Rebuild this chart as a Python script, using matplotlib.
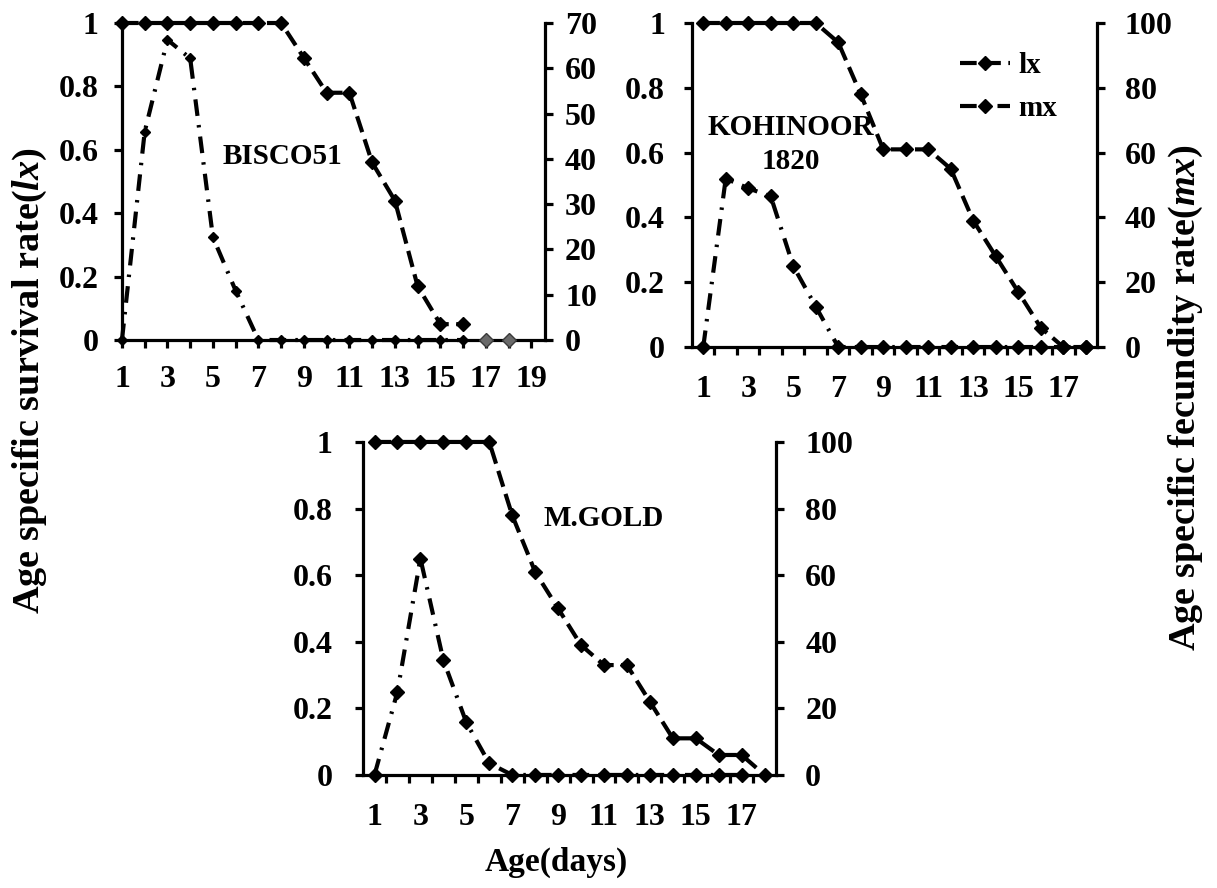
import matplotlib
matplotlib.use("Agg")
import matplotlib.pyplot as plt
from matplotlib.lines import Line2D
import numpy as np

plt.rcParams["font.family"] = ["Liberation Serif", "DejaVu Serif"]
plt.rcParams["font.weight"] = "bold"
plt.rcParams["mathtext.fontset"] = "custom"
plt.rcParams["mathtext.rm"] = "Liberation Serif:bold"
plt.rcParams["mathtext.it"] = "Liberation Serif:italic:bold"

# ---- life-table data (age in days) ----
days_bisco = list(range(1, 19))
lx_bisco = [1, 1, 1, 1, 1, 1, 1, 1, 0.89, 0.78, 0.78, 0.56, 0.44, 0.17, 0.05, 0.05, 0, 0]
mx_days_bisco = list(range(1, 17))
mx_bisco = [0, 46, 66.3, 62.2, 22.7, 10.9, 0, 0, 0, 0, 0, 0, 0, 0, 0, 0]

days_koh = list(range(1, 19))
lx_koh = [1, 1, 1, 1, 1, 1, 0.94, 0.78, 0.61, 0.61, 0.61, 0.55, 0.39, 0.28, 0.17, 0.06, 0, 0]
mx_koh = [0, 52, 49, 46.5, 25, 12.5, 0, 0, 0, 0, 0, 0, 0, 0, 0, 0, 0, 0]

days_gold = list(range(1, 19))
lx_gold = [1, 1, 1, 1, 1, 1, 0.78, 0.61, 0.5, 0.39, 0.33, 0.33, 0.22, 0.11, 0.11, 0.06, 0.06, 0]
mx_days_gold = list(range(1, 18))
mx_gold = [0, 25, 65, 34.5, 15.8, 3.5, 0, 0, 0, 0, 0, 0, 0, 0, 0, 0, 0]

left_ticks = [0, 0.2, 0.4, 0.6, 0.8, 1]
left_labels = ["0", "0.2", "0.4", "0.6", "0.8", "1"]

TICK_FS = 23
NOTE_FS = 21
LW = 3.0
SPINE_LW = 2.3
TICK_LEN = 6
LX_DASH = (4, 1.8)
MX_DASH = (4, 2.2, 0.6, 2.2)

fig = plt.figure(figsize=(12.17, 8.88), dpi=100)


def style_axes(ax, ax_r, right_max, right_step, left_pad, right_pad):
    for a in (ax, ax_r):
        a.spines["top"].set_visible(False)
        for s in ("left", "right", "bottom"):
            a.spines[s].set_linewidth(SPINE_LW)
    ax.spines["right"].set_visible(False)
    ax_r.spines["left"].set_visible(False)
    ax_r.spines["bottom"].set_visible(False)
    ax.set_ylim(0, 1)
    ax.set_yticks(left_ticks)
    ax.set_yticklabels(left_labels)
    ax.tick_params(axis="y", direction="out", length=TICK_LEN, width=2.3,
                   labelsize=TICK_FS, pad=left_pad)
    ax_r.set_ylim(0, right_max)
    ax_r.set_yticks(np.arange(0, right_max + 1, right_step))
    ax_r.tick_params(axis="y", direction="out", length=TICK_LEN, width=2.3,
                     labelsize=TICK_FS, pad=right_pad)
    for t in ax.get_yticklabels() + ax_r.get_yticklabels():
        t.set_fontweight("bold")


def draw_lx(ax, x, y, ms=7.5, **kw):
    line, = ax.plot(x, y, color="black", lw=LW, marker="D", ms=ms,
                    clip_on=False, zorder=4, **kw)
    line.set_dashes(LX_DASH)
    return line


def draw_mx(ax, x, y, ms=7.5, **kw):
    line, = ax.plot(x, y, color="black", lw=LW, marker="D", ms=ms,
                    clip_on=False, zorder=4, **kw)
    line.set_dashes(MX_DASH)
    return line


# ---------------- BISCO51 ----------------
ax1 = fig.add_axes([0.1002, 0.6171, 0.3476, 0.357])
ax1r = ax1.twinx()
style_axes(ax1, ax1r, 70, 10, 11, 8.5)
ax1.set_xlim(1, 19.6)
ax1.set_xticks(range(1, 20))
ax1.set_xticklabels([str(d) if d % 2 == 1 else "" for d in range(1, 20)])
ax1.tick_params(axis="x", direction="out", length=TICK_LEN, width=2.3,
                labelsize=TICK_FS, pad=12)
ax1r.set_xlim(1, 19.6)
draw_lx(ax1, days_bisco[:16], lx_bisco[:16])
ax1.plot(days_bisco[16:], lx_bisco[16:], ls="none", marker="D", ms=7.5,
         color="#6a6a6a", mec="#3a3a3a", clip_on=False, zorder=4)
draw_mx(ax1r, mx_days_bisco, mx_bisco, ms=5)
ax1.text(8.05, 0.58, "BISCO51", fontsize=NOTE_FS, fontweight="bold",
         ha="center", va="center")

# ---------------- KOHINOOR 1820 ----------------
ax2 = fig.add_axes([0.5686, 0.6092, 0.3328, 0.3649])
ax2r = ax2.twinx()
style_axes(ax2, ax2r, 100, 20, 13.5, 14)
for a in (ax2, ax2r):
    a.set_xlim(0.5, 18.5)
ax2.set_xticks(range(1, 18, 2))
ax2.set_xticks(np.arange(1.5, 18.0, 1.0), minor=True)
ax2.tick_params(axis="x", which="major", length=0, labelsize=TICK_FS, pad=20)
ax2.tick_params(axis="x", which="minor", direction="out", length=TICK_LEN, width=2.3)
draw_lx(ax2, days_koh, lx_koh)
draw_mx(ax2r, days_koh, mx_koh)
ax2.text(4.9, 0.625, "KOHINOOR\n1820", fontsize=NOTE_FS, fontweight="bold",
         ha="center", va="center", linespacing=1.3)

# ---------------- M.GOLD ----------------
ax3 = fig.add_axes([0.2983, 0.1273, 0.3394, 0.375])
ax3r = ax3.twinx()
style_axes(ax3, ax3r, 100, 20, 16, 15)
for a in (ax3, ax3r):
    a.set_xlim(0.5, 18.5)
ax3.set_xticks(range(1, 18, 2))
ax3.set_xticks(np.arange(1.5, 18.0, 1.0), minor=True)
ax3.tick_params(axis="x", which="major", length=0, labelsize=TICK_FS, pad=20)
ax3.tick_params(axis="x", which="minor", direction="out", length=TICK_LEN, width=2.3)
draw_lx(ax3, days_gold, lx_gold)
draw_mx(ax3r, mx_days_gold, mx_gold)
ax3.text(11.0, 0.77, "M.GOLD", fontsize=NOTE_FS, fontweight="bold",
         ha="center", va="center")

for a in (ax1, ax2, ax3):
    for t in a.get_xticklabels():
        t.set_fontweight("bold")

# ---------------- legend ----------------
h_lx = Line2D([], [], color="black", lw=LW, marker="D", ms=7.5, dashes=LX_DASH)
h_mx = Line2D([], [], color="black", lw=LW, marker="D", ms=7.5, dashes=MX_DASH)
fig.legend([h_lx, h_mx], ["lx", "mx"], loc="upper left",
           bbox_to_anchor=(934 / 1217, 1 - 26 / 888), frameon=False,
           prop={"family": "Liberation Serif", "weight": "bold", "size": NOTE_FS},
           handlelength=1.7, handletextpad=0.3, labelspacing=0.55)

# ---------------- axis titles ----------------
fig.text(30 / 1217, 1 - 381 / 888, r"Age specific survival rate($lx$)",
         rotation=90, ha="center", va="center", fontsize=27.5, fontweight="bold")
fig.text(1186 / 1217, 1 - 397 / 888, r"Age specific fecundity rate($mx$)",
         rotation=90, ha="center", va="center", fontsize=27.5, fontweight="bold")
fig.text(556 / 1217, 1 - 862 / 888, "Age(days)", ha="center", va="center",
         fontsize=24, fontweight="bold")

fig.savefig("out.png", dpi=100)
